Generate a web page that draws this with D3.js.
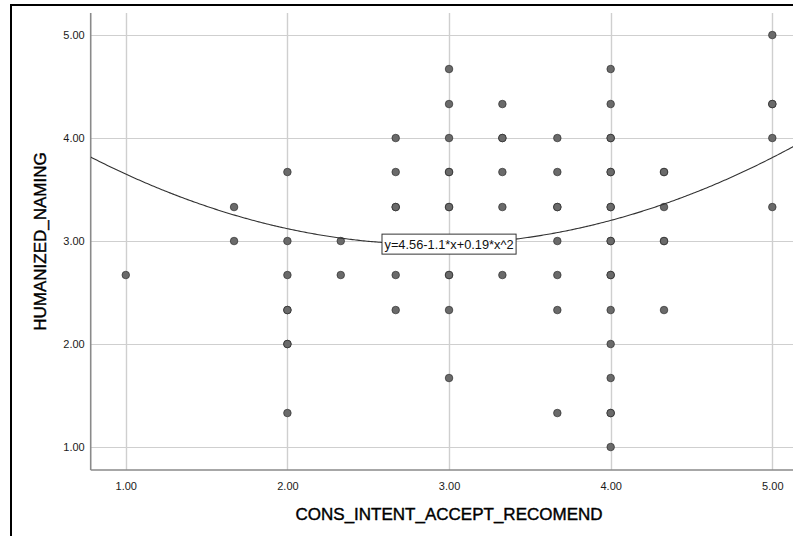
<!DOCTYPE html>
<html>
<head>
<meta charset="utf-8">
<script src="https://cdn.jsdelivr.net/npm/d3@7"></script>
<style>
  html, body { margin: 0; padding: 0; background: #fff; }
  svg { display: block; font-family: "Liberation Sans", Arial, sans-serif; }
</style>
</head>
<body>
<svg id="chart" width="793" height="536"></svg>
<script>
// Respondent scores (one entry per respondent)
const acceptScores = [
  1.00,
  1.67, 1.67,
  2.00, 2.00, 2.00, 2.00, 2.00, 2.00, 2.00, 2.00,
  2.33, 2.33,
  2.67, 2.67, 2.67, 2.67, 2.67, 2.67,
  3.00, 3.00, 3.00, 3.00, 3.00, 3.00, 3.00, 3.00, 3.00, 3.00, 3.00, 3.00,
  3.33, 3.33, 3.33, 3.33, 3.33, 3.33,
  3.67, 3.67, 3.67, 3.67, 3.67, 3.67, 3.67, 3.67,
  4.00, 4.00, 4.00, 4.00, 4.00, 4.00, 4.00, 4.00, 4.00, 4.00,
  4.00, 4.00, 4.00, 4.00, 4.00, 4.00, 4.00, 4.00,
  4.33, 4.33, 4.33, 4.33, 4.33, 4.33,
  5.00, 5.00, 5.00, 5.00, 5.00
];
const namingScores = [
  2.67,
  3.33, 3.00,
  3.67, 3.00, 2.67, 2.33, 2.33, 2.00, 2.00, 1.33,
  3.00, 2.67,
  4.00, 3.67, 3.33, 3.33, 2.67, 2.33,
  4.67, 4.33, 4.00, 3.67, 3.67, 3.33, 3.33, 3.00, 2.67, 2.67, 2.33, 1.67,
  4.33, 4.00, 4.00, 3.67, 3.33, 2.67,
  4.00, 3.67, 3.33, 3.33, 3.00, 2.67, 2.33, 1.33,
  4.67, 4.33, 4.00, 4.00, 3.67, 3.67, 3.33, 3.33, 3.00, 3.00,
  2.67, 2.67, 2.33, 2.00, 1.67, 1.33, 1.33, 1.00,
  3.67, 3.67, 3.33, 3.00, 3.00, 2.33,
  5.00, 4.33, 4.33, 4.00, 3.33
];

const xTicks = [1, 2, 3, 4, 5];
const yTicks = [1, 2, 3, 4, 5];

// Quadratic fit: y = b0 + b1*x + b2*x^2
const fitCoef = [4.56, -1.1, 0.19];
const fitLabel = "y=4.56-1.1*x+0.19*x^2";
const fitLabelAt = 3;

const xTitle = "CONS_INTENT_ACCEPT_RECOMEND";
const yTitle = "HUMANIZED_NAMING";

const svg = d3.select("#chart");

// Outer frame (runs off the right and bottom edges)
svg.append("rect")
  .attr("x", 11).attr("y", 5)
  .attr("width", 820).attr("height", 620)
  .attr("fill", "none")
  .attr("stroke", "#000")
  .attr("stroke-width", 2);

const plot = { left: 90.7, top: 13, right: 793, bottom: 470 };

const x = d3.scaleLinear().domain([0.783, 5.128]).range([plot.left, plot.right]);
const y = d3.scaleLinear().domain([0.777, 5.214]).range([plot.bottom, plot.top]);

svg.append("clipPath").attr("id", "plotClip")
  .append("rect")
  .attr("x", plot.left).attr("y", plot.top)
  .attr("width", plot.right - plot.left).attr("height", plot.bottom - plot.top);

// Grid
const grid = svg.append("g");
grid.selectAll("line.v").data(xTicks).join("line")
  .attr("class", "v")
  .attr("x1", d => Math.round(x(d)) + 0.5).attr("x2", d => Math.round(x(d)) + 0.5)
  .attr("y1", plot.top).attr("y2", plot.bottom)
  .attr("stroke", "#cfcfcf").attr("stroke-width", 1.4);
grid.selectAll("line.h").data(yTicks).join("line")
  .attr("class", "h")
  .attr("x1", plot.left).attr("x2", plot.right)
  .attr("y1", d => Math.round(y(d)) + 0.5).attr("y2", d => Math.round(y(d)) + 0.5)
  .attr("stroke", "#cfcfcf").attr("stroke-width", 1.2);

// Axes (labels only, no tick marks)
const xAxis = d3.axisBottom(x).tickValues(xTicks).tickFormat(d3.format(".2f")).tickSize(0).tickPadding(12);
const yAxis = d3.axisLeft(y).tickValues(yTicks).tickFormat(d3.format(".2f")).tickSize(0).tickPadding(6);

const gx = svg.append("g").attr("transform", `translate(0,${plot.bottom})`).call(xAxis);
const gy = svg.append("g").attr("transform", `translate(${plot.left},0)`).call(yAxis);
[gx, gy].forEach(g => {
  g.select(".domain").remove();
  g.selectAll("text")
    .attr("font-family", "Liberation Sans, Arial, sans-serif")
    .attr("font-size", 11)
    .attr("fill", "#1a1a1a");
});

svg.append("line")
  .attr("x1", plot.left).attr("x2", plot.right)
  .attr("y1", plot.bottom).attr("y2", plot.bottom)
  .attr("stroke", "#8a8a8a").attr("stroke-width", 1.6);
svg.append("line")
  .attr("x1", plot.left).attr("x2", plot.left)
  .attr("y1", plot.top).attr("y2", plot.bottom)
  .attr("stroke", "#8a8a8a").attr("stroke-width", 1.6);

// Points
const points = acceptScores.map((a, i) => ({ a, n: namingScores[i] }));
svg.append("g").selectAll("circle").data(points).join("circle")
  .attr("cx", d => x(d.a))
  .attr("cy", d => y(d.n))
  .attr("r", 3.8)
  .attr("fill", "#6a6a6a")
  .attr("stroke", "#222")
  .attr("stroke-opacity", 0.6)
  .attr("stroke-width", 1);

// Fit curve
const fit = v => fitCoef[0] + fitCoef[1] * v + fitCoef[2] * v * v;
const curveX = d3.range(x.domain()[0], x.domain()[1] + 0.01, 0.01);
svg.append("path")
  .datum(curveX)
  .attr("clip-path", "url(#plotClip)")
  .attr("d", d3.line().x(v => x(v)).y(v => y(fit(v))))
  .attr("fill", "none")
  .attr("stroke", "#333")
  .attr("stroke-width", 1.1);

// Fit equation label
const lab = svg.append("g")
  .attr("transform", `translate(${x(fitLabelAt)},${y(fit(fitLabelAt))})`);
const labRect = lab.append("rect");
const labText = lab.append("text")
  .attr("text-anchor", "middle")
  .attr("dy", "0.35em")
  .attr("font-size", 12.8)
  .attr("fill", "#111")
  .text(fitLabel);
const bb = labText.node().getBBox();
labRect
  .attr("x", bb.x - 2.5).attr("y", -10)
  .attr("width", bb.width + 5).attr("height", 20)
  .attr("fill", "#fff")
  .attr("stroke", "#333")
  .attr("stroke-width", 1);

// Axis titles
svg.append("text")
  .attr("x", (x(1) + x(5)) / 2)
  .attr("y", 520)
  .attr("text-anchor", "middle")
  .attr("font-size", 17)
  .attr("fill", "#000")
  .attr("stroke", "#000")
  .attr("stroke-width", 0.4)
  .text(xTitle);

svg.append("text")
  .attr("transform", `translate(46,${(plot.top + plot.bottom) / 2}) rotate(-90)`)
  .attr("text-anchor", "middle")
  .attr("font-size", 17)
  .attr("fill", "#000")
  .attr("stroke", "#000")
  .attr("stroke-width", 0.4)
  .text(yTitle);
</script>
</body>
</html>
